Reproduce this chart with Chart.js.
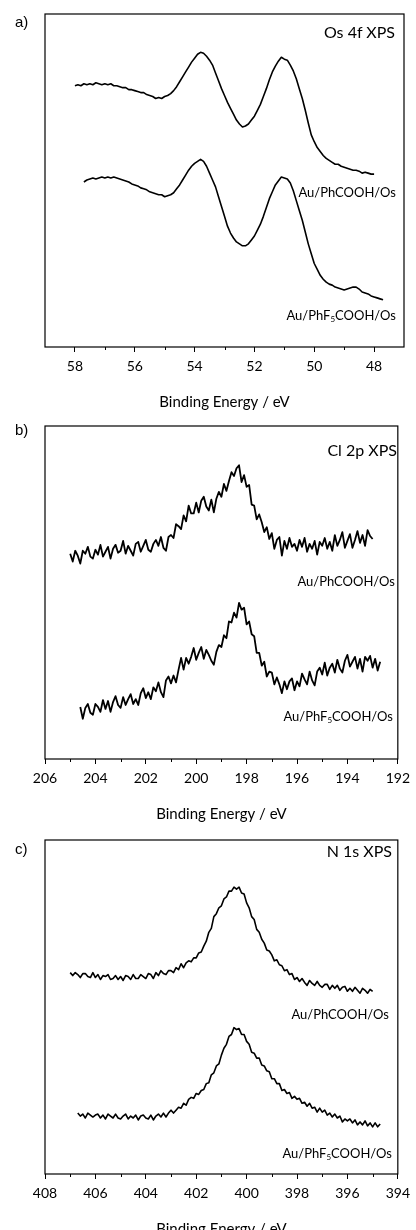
<!DOCTYPE html>
<html lang="en">
<head>
<meta charset="UTF-8">
<title>XPS spectra</title>
<script src="https://cdn.jsdelivr.net/npm/chart.js"></script>
<style>
body {
    margin: 0;
    background: #fff;
    width: 416px;
    height: 1230px;
    overflow: hidden;
    position: relative;
    font-family: Lato, sans-serif;
    color: #000;
}
.panel { position: absolute; left: 0; }
.txt { position: absolute; line-height: 16px; white-space: nowrap; }
.tag { font-family: "Liberation Sans", Arial, sans-serif; font-size: 15px; left: 15px; }
.core { font-size: 16px; }
.lbl { font-size: 13px; }
sub { font-size: 8px; vertical-align: -2px; line-height: 0; }
</style>
</head>
<body>
<div class="panel" style="top:0"><canvas id="chartA" width="416" height="412"></canvas></div>
<div class="panel" style="top:412px"><canvas id="chartB" width="416" height="414"></canvas></div>
<div class="panel" style="top:826px"><canvas id="chartC" width="416" height="412"></canvas></div>

<div class="txt tag" style="top:14px">a)</div>
<div class="txt core" style="top:24px; right:21px">Os 4f XPS</div>
<div class="txt lbl" style="top:184px; right:20px">Au/PhCOOH/Os</div>
<div class="txt lbl" style="top:307px; right:20px">Au/PhF<sub>5</sub>COOH/Os</div>

<div class="txt tag" style="top:422px">b)</div>
<div class="txt core" style="top:442px; right:19px">Cl 2p XPS</div>
<div class="txt lbl" style="top:573px; right:21px">Au/PhCOOH/Os</div>
<div class="txt lbl" style="top:708px; right:23px">Au/PhF<sub>5</sub>COOH/Os</div>

<div class="txt tag" style="top:841px">c)</div>
<div class="txt core" style="top:843px; right:24px">N 1s XPS</div>
<div class="txt lbl" style="top:1006px; right:27px">Au/PhCOOH/Os</div>
<div class="txt lbl" style="top:1145px; right:24px">Au/PhF<sub>5</sub>COOH/Os</div>

<script>
// ---- a) Os 4f ----
const aTicks = [58, 56, 54, 52, 50, 48];
const aMinor = [57, 55, 53, 51, 49];
const aEnergyPh = [
    58.0,57.9,57.8,57.7,57.6,57.5,57.4,57.3,57.2,57.1,
    57.0,56.9,56.8,56.7,56.6,56.5,56.4,56.3,56.2,56.1,
    56.0,55.9,55.8,55.7,55.6,55.5,55.4,55.3,55.2,55.1,
    55.0,54.9,54.8,54.7,54.6,54.5,54.4,54.3,54.2,54.1,
    54.0,53.9,53.8,53.7,53.6,53.5,53.4,53.3,53.2,53.1,
    53.0,52.9,52.8,52.7,52.6,52.5,52.4,52.3,52.2,52.1,
    52.0,51.9,51.8,51.7,51.6,51.5,51.4,51.3,51.2,51.1,
    51.0,50.9,50.8,50.7,50.6,50.5,50.4,50.3,50.2,50.1,
    50.0,49.9,49.8,49.7,49.6,49.5,49.4,49.3,49.2,49.1,
    49.0,48.9,48.8,48.7,48.6,48.5,48.4,48.3,48.2,48.1,
    48.0
];
const aPhCOOH = [
    266,267,266,268,267,268,267,269,268,267,
    268,267,268,266,266,265,264,264,262,262,
    261,260,259,259,257,256,255,253,254,253,
    255,256,258,261,265,270,275,280,285,290,
    294,298,300,299,296,292,287,279,271,263,
    256,249,243,237,231,227,224,225,227,231,
    235,241,247,255,263,272,280,286,291,295,
    293,292,287,281,273,263,253,241,228,216,
    209,203,199,195,192,190,188,186,186,184,
    183,182,181,180,180,179,177,178,177,176,
    176
];
const aEnergyF5 = [
    57.7,57.6,57.5,57.4,57.3,57.2,57.1,57.0,56.9,56.8,
    56.7,56.6,56.5,56.4,56.3,56.2,56.1,56.0,55.9,55.8,
    55.7,55.6,55.5,55.4,55.3,55.2,55.1,55.0,54.9,54.8,
    54.7,54.6,54.5,54.4,54.3,54.2,54.1,54.0,53.9,53.8,
    53.7,53.6,53.5,53.4,53.3,53.2,53.1,53.0,52.9,52.8,
    52.7,52.6,52.5,52.4,52.3,52.2,52.1,52.0,51.9,51.8,
    51.7,51.6,51.5,51.4,51.3,51.2,51.1,51.0,50.9,50.8,
    50.7,50.6,50.5,50.4,50.3,50.2,50.1,50.0,49.9,49.8,
    49.7,49.6,49.5,49.4,49.3,49.2,49.1,49.0,48.9,48.8,
    48.7,48.6,48.5,48.4,48.3,48.2,48.1,48.0,47.9,47.8,
    47.7
];
const aPhF5COOH = [
    168,170,171,172,171,172,173,172,173,172,
    173,172,171,170,169,168,166,165,164,162,
    161,160,158,157,156,155,155,153,154,155,
    157,161,165,170,175,180,184,187,189,191,
    189,184,177,170,163,153,143,133,123,116,
    111,107,105,103,103,105,109,113,119,125,
    133,142,151,158,165,169,173,172,171,167,
    159,149,139,129,117,105,95,85,79,73,
    69,66,64,63,61,60,59,58,59,60,
    61,61,59,56,55,54,52,51,50,49,
    48
];

// ---- b) Cl 2p ----
const bTicks = [206, 204, 202, 200, 198, 196, 194, 192];
const bMinor = [205, 203, 201, 199, 197, 195, 193];
const bEnergyPh = [
    205.0,204.9,204.8,204.7,204.6,204.5,204.4,204.3,204.2,204.1,
    204.0,203.9,203.8,203.7,203.6,203.5,203.4,203.3,203.2,203.1,
    203.0,202.9,202.8,202.7,202.6,202.5,202.4,202.3,202.2,202.1,
    202.0,201.9,201.8,201.7,201.6,201.5,201.4,201.3,201.2,201.1,
    201.0,200.9,200.8,200.7,200.6,200.5,200.4,200.3,200.2,200.1,
    200.0,199.9,199.8,199.7,199.6,199.5,199.4,199.3,199.2,199.1,
    199.0,198.9,198.8,198.7,198.6,198.5,198.4,198.3,198.2,198.1,
    198.0,197.9,197.8,197.7,197.6,197.5,197.4,197.3,197.2,197.1,
    197.0,196.9,196.8,196.7,196.6,196.5,196.4,196.3,196.2,196.1,
    196.0,195.9,195.8,195.7,195.6,195.5,195.4,195.3,195.2,195.1,
    195.0,194.9,194.8,194.7,194.6,194.5,194.4,194.3,194.2,194.1,
    194.0,193.9,193.8,193.7,193.6,193.5,193.4,193.3,193.2,193.1,
    193.0
];
const bPhCOOH = [
    209,201,212,207,199,212,209,216,206,204,
    213,208,218,206,211,216,204,214,218,210,
    212,222,209,217,212,207,219,221,211,217,
    223,213,211,219,223,217,226,215,212,226,
    228,225,239,237,234,248,242,258,250,250,
    261,251,263,267,257,253,264,251,265,272,
    267,280,273,283,292,288,296,299,282,289,
    277,279,259,258,244,249,241,231,236,224,
    230,214,223,226,207,222,214,225,216,219,
    212,223,216,225,211,219,214,222,208,221,
    217,225,214,221,212,228,217,223,231,215,
    222,229,215,223,232,220,228,217,233,227,
    224
];
const bEnergyF5 = [
    204.6,204.5,204.4,204.3,204.2,204.1,204.0,203.9,203.8,203.7,
    203.6,203.5,203.4,203.3,203.2,203.1,203.0,202.9,202.8,202.7,
    202.6,202.5,202.4,202.3,202.2,202.1,202.0,201.9,201.8,201.7,
    201.6,201.5,201.4,201.3,201.2,201.1,201.0,200.9,200.8,200.7,
    200.6,200.5,200.4,200.3,200.2,200.1,200.0,199.9,199.8,199.7,
    199.6,199.5,199.4,199.3,199.2,199.1,199.0,198.9,198.8,198.7,
    198.6,198.5,198.4,198.3,198.2,198.1,198.0,197.9,197.8,197.7,
    197.6,197.5,197.4,197.3,197.2,197.1,197.0,196.9,196.8,196.7,
    196.6,196.5,196.4,196.3,196.2,196.1,196.0,195.9,195.8,195.7,
    195.6,195.5,195.4,195.3,195.2,195.1,195.0,194.9,194.8,194.7,
    194.6,194.5,194.4,194.3,194.2,194.1,194.0,193.9,193.8,193.7,
    193.6,193.5,193.4,193.3,193.2,193.1,193.0,192.9,192.8,192.7
];
const bPhF5COOH = [
    53,41,52,56,47,45,56,53,48,60,
    51,59,48,58,64,55,52,63,55,61,
    66,56,61,55,67,72,62,68,61,73,
    69,78,68,63,80,84,77,85,78,91,
    103,91,103,97,104,113,101,108,114,102,
    111,106,100,96,109,116,114,126,123,140,
    139,149,144,159,152,154,137,140,127,125,
    108,108,95,99,84,89,88,76,83,76,
    67,79,71,79,82,70,79,74,87,81,
    76,89,80,75,89,93,86,98,85,93,
    97,88,101,92,88,100,106,94,99,104,
    92,102,89,104,100,105,93,102,90,99
];

// ---- c) N 1s ----
const cTicks = [408, 406, 404, 402, 400, 398, 396, 394];
const cMinor = [407, 405, 403, 401, 399, 397, 395];
const cEnergyPh = [
    407.0,406.9,406.8,406.7,406.6,406.5,406.4,406.3,406.2,406.1,
    406.0,405.9,405.8,405.7,405.6,405.5,405.4,405.3,405.2,405.1,
    405.0,404.9,404.8,404.7,404.6,404.5,404.4,404.3,404.2,404.1,
    404.0,403.9,403.8,403.7,403.6,403.5,403.4,403.3,403.2,403.1,
    403.0,402.9,402.8,402.7,402.6,402.5,402.4,402.3,402.2,402.1,
    402.0,401.9,401.8,401.7,401.6,401.5,401.4,401.3,401.2,401.1,
    401.0,400.9,400.8,400.7,400.6,400.5,400.4,400.3,400.2,400.1,
    400.0,399.9,399.8,399.7,399.6,399.5,399.4,399.3,399.2,399.1,
    399.0,398.9,398.8,398.7,398.6,398.5,398.4,398.3,398.2,398.1,
    398.0,397.9,397.8,397.7,397.6,397.5,397.4,397.3,397.2,397.1,
    397.0,396.9,396.8,396.7,396.6,396.5,396.4,396.3,396.2,396.1,
    396.0,395.9,395.8,395.7,395.6,395.5,395.4,395.3,395.2,395.1,
    395.0
];
const cPhCOOH = [
    205,202,205,203,200,204,204,201,200,205,
    200,203,198,202,201,203,198,199,202,198,
    201,197,202,201,198,203,199,199,203,201,
    199,204,203,199,205,202,207,204,203,207,
    207,205,210,208,214,210,215,217,216,220,
    220,225,226,232,237,246,250,262,265,271,
    273,280,282,288,288,292,290,292,286,285,
    276,271,262,259,249,246,239,235,228,227,
    223,217,218,213,212,207,208,203,204,198,
    200,196,199,195,192,197,194,192,196,192,
    190,193,193,188,192,189,192,187,190,191,
    186,189,186,190,187,184,189,187,184,188,
    186
];
const cEnergyF5 = [
    406.7,406.6,406.5,406.4,406.3,406.2,406.1,406.0,405.9,405.8,
    405.7,405.6,405.5,405.4,405.3,405.2,405.1,405.0,404.9,404.8,
    404.7,404.6,404.5,404.4,404.3,404.2,404.1,404.0,403.9,403.8,
    403.7,403.6,403.5,403.4,403.3,403.2,403.1,403.0,402.9,402.8,
    402.7,402.6,402.5,402.4,402.3,402.2,402.1,402.0,401.9,401.8,
    401.7,401.6,401.5,401.4,401.3,401.2,401.1,401.0,400.9,400.8,
    400.7,400.6,400.5,400.4,400.3,400.2,400.1,400.0,399.9,399.8,
    399.7,399.6,399.5,399.4,399.3,399.2,399.1,399.0,398.9,398.8,
    398.7,398.6,398.5,398.4,398.3,398.2,398.1,398.0,397.9,397.8,
    397.7,397.6,397.5,397.4,397.3,397.2,397.1,397.0,396.9,396.8,
    396.7,396.6,396.5,396.4,396.3,396.2,396.1,396.0,395.9,395.8,
    395.7,395.6,395.5,395.4,395.3,395.2,395.1,395.0,394.9,394.8,
    394.7
];
const cPhF5COOH = [
    62,59,61,57,62,60,58,60,61,57,
    60,56,61,59,57,61,57,56,59,61,
    56,59,57,60,55,59,60,57,56,60,
    55,59,61,58,62,58,62,65,62,65,
    68,67,72,70,76,78,77,82,81,85,
    86,92,93,101,103,110,112,121,128,132,
    140,142,149,147,148,142,142,135,132,124,
    123,118,118,111,110,105,104,97,97,92,
    92,85,86,82,83,77,79,76,77,72,
    73,69,72,67,68,63,67,63,65,60,
    62,58,61,57,59,53,56,54,56,52,
    55,50,53,50,54,49,52,48,52,48,
    51
];

// box round the plot area plus short minor ticks on the energy axis
function framePlugin(minor) {
    return {
        id: 'frame',
        afterDraw(chart) {
            const { ctx, chartArea: a } = chart;
            const x = chart.scales.x;
            ctx.save();
            ctx.strokeStyle = '#000';
            ctx.lineWidth = 1.2;
            ctx.strokeRect(a.left, a.top, a.right - a.left, a.bottom - a.top);
            ctx.lineWidth = 1;
            ctx.beginPath();
            minor.forEach(v => {
                const px = Math.round(x.getPixelForValue(v)) + 0.5;
                ctx.moveTo(px, a.bottom);
                ctx.lineTo(px, a.bottom + 3);
            });
            ctx.stroke();
            ctx.restore();
        }
    };
}

function toPoints(energy, counts) {
    const n = Math.min(energy.length, counts.length);
    const pts = [];
    for (let i = 0; i < n; i++) pts.push({ x: energy[i], y: counts[i] });
    return pts;
}

function makeChart(id, series, lo, hi, ticks, minor, yMax, padBottom, width) {
    return new Chart(document.getElementById(id), {
        type: 'line',
        data: {
            datasets: series.map(s => ({
                data: toPoints(s[0], s[1]),
                borderColor: '#000',
                borderWidth: width,
                borderJoinStyle: 'round',
                pointRadius: 0,
                tension: 0,
                fill: false
            }))
        },
        options: {
            responsive: false,
            animation: false,
            layout: { padding: { left: 45, right: 12, top: 14, bottom: padBottom } },
            plugins: { legend: { display: false }, tooltip: { enabled: false } },
            scales: {
                x: {
                    type: 'linear',
                    min: lo,
                    max: hi,
                    reverse: true,
                    afterBuildTicks: sc => { sc.ticks = ticks.map(v => ({ value: v })); },
                    border: { display: false },
                    grid: { display: true, drawOnChartArea: false, drawTicks: true, tickLength: 5, color: '#000', lineWidth: 1 },
                    ticks: { color: '#000', padding: 6, maxRotation: 0, autoSkip: false, font: { family: 'Lato', size: 14 } },
                    title: {
                        display: true,
                        text: 'Binding Energy / eV',
                        color: '#000',
                        font: { family: 'Lato', size: 15 },
                        padding: { top: 12, bottom: 0 }
                    }
                },
                y: { display: false, min: 0, max: yMax }
            }
        },
        plugins: [framePlugin(minor)]
    });
}

makeChart('chartA', [[aEnergyPh, aPhCOOH], [aEnergyF5, aPhF5COOH]], 47, 59, aTicks, aMinor, 339, 1.2, 1.6);
makeChart('chartB', [[bEnergyPh, bPhCOOH], [bEnergyF5, bPhF5COOH]], 192, 206, bTicks, bMinor, 339, 3.2, 1.8);
makeChart('chartC', [[cEnergyPh, cPhCOOH], [cEnergyF5, cPhF5COOH]], 394, 408, cTicks, cMinor, 340, 0.2, 1.6);
</script>
</body>
</html>
